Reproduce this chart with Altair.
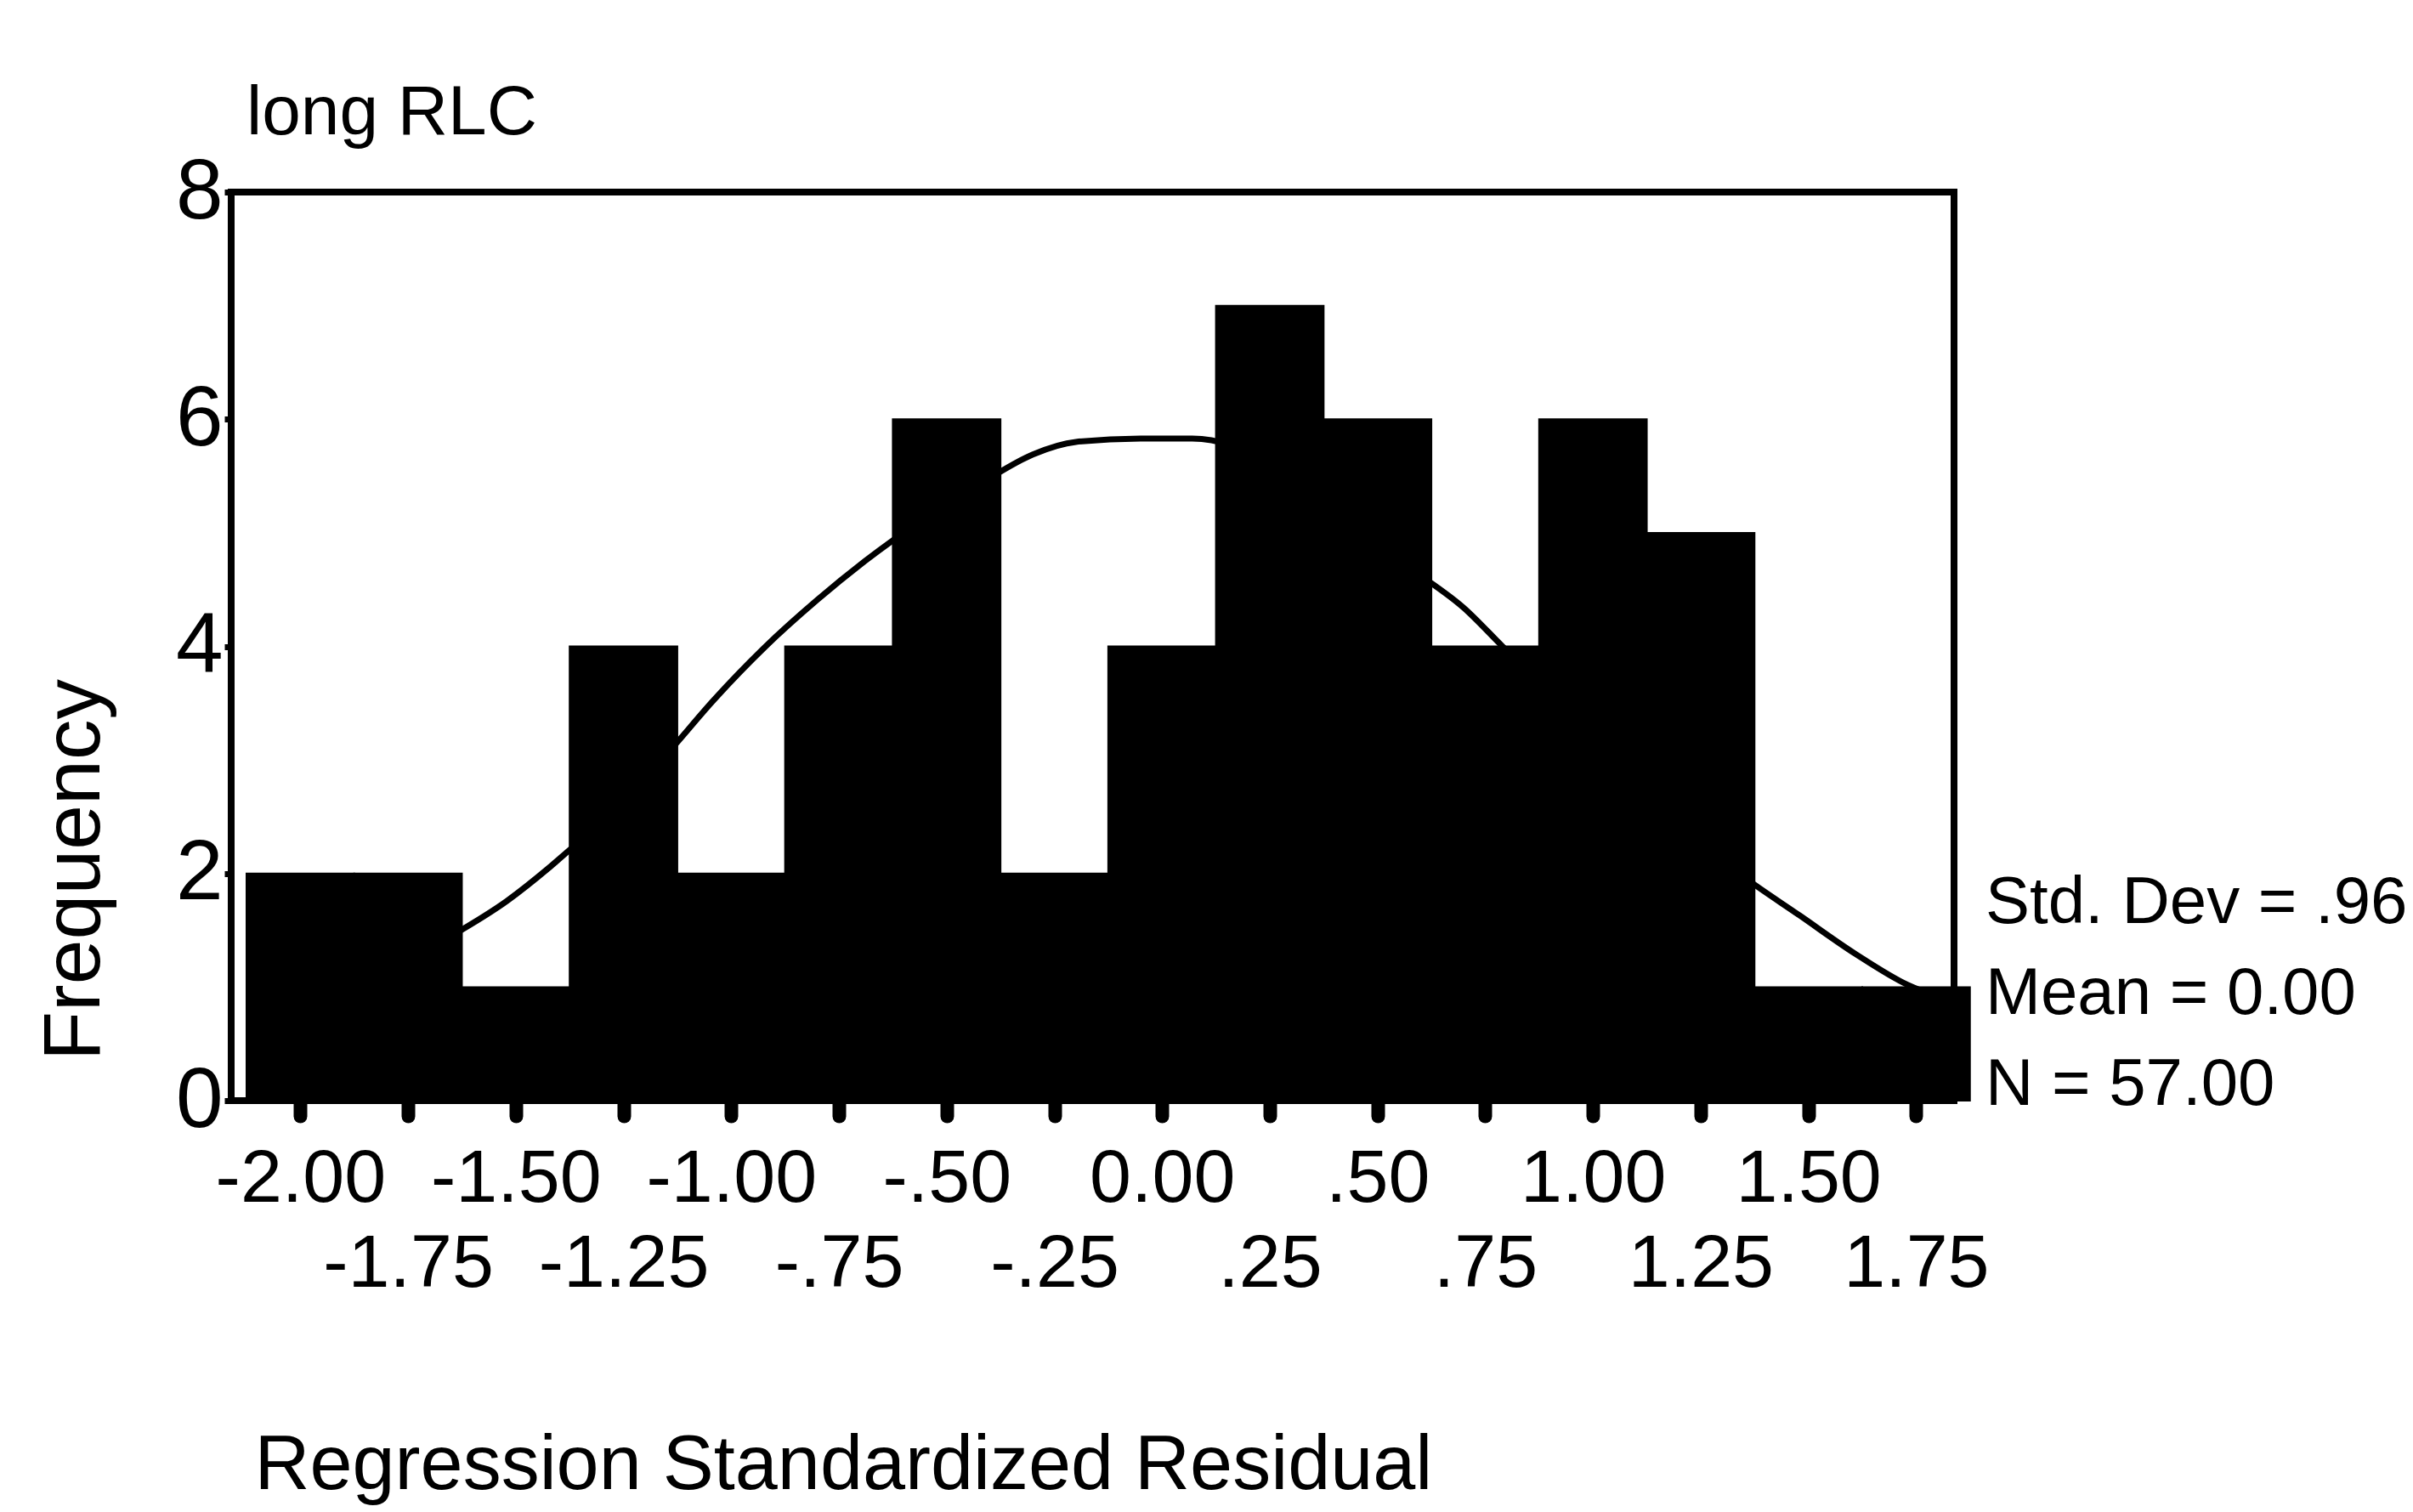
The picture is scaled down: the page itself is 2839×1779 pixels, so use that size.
import json
import altair as alt
import pandas as pd

# ---- data ----
BIN_CENTERS = [-2.00, -1.75, -1.50, -1.25, -1.00, -0.75, -0.50, -0.25,
               0.00, 0.25, 0.50, 0.75, 1.00, 1.25, 1.50, 1.75]
COUNTS = [2, 2, 1, 4, 2, 4, 6, 2, 4, 7, 6, 4, 6, 5, 1, 1]
TICK_LABELS = ["-2.00", "-1.75", "-1.50", "-1.25", "-1.00", "-.75", "-.50", "-.25",
               "0.00", ".25", ".50", ".75", "1.00", "1.25", "1.50", "1.75"]
Y_TICKS = [0, 2, 4, 6, 8]

CURVE_X = [-1.65, -1.52, -1.42, -1.15, -1.04, -0.92, -0.80, -0.69, -0.41, -0.30,
           -0.20, -0.05, 0.07, 0.59, 0.70, 0.79, 1.35, 1.48, 1.61, 1.73, 1.86]
CURVE_Y = [1.45, 1.76, 2.06, 3.05, 3.53, 4.00, 4.41, 4.75, 5.46, 5.69,
           5.80, 5.83, 5.83, 4.65, 4.34, 4.00, 1.97, 1.63, 1.29, 1.02, 0.85]

STATS = ["Std. Dev = .96", "Mean = 0.00", "N = 57.00"]
TITLE = "long RLC"
X_TITLE = "Regression Standardized Residual"
Y_TITLE = "Frequency"

BIN_WIDTH = 0.25

FONT = "Liberation Sans, Arial, sans-serif"

bars_df = pd.DataFrame({
    "center": BIN_CENTERS,
    "count": COUNTS,
})
bars_df["start"] = bars_df["center"] - BIN_WIDTH / 2
bars_df["end"] = bars_df["center"] + BIN_WIDTH / 2

curve_df = pd.DataFrame({"x": CURVE_X, "y": CURVE_Y})

V = json.dumps(BIN_CENTERS)
L = json.dumps(TICK_LABELS)
label_expr = (f"indexof({V}, datum.value) % 2 == 0 ? {L}[indexof({V}, datum.value)] "
              f": ['', {L}[indexof({V}, datum.value)]]")

x_scale = alt.Scale(domain=[-2.1605, 1.838], nice=False, zero=False)
y_scale = alt.Scale(domain=[0, 8], nice=False)

x_axis = alt.Axis(
    values=BIN_CENTERS, labelExpr=label_expr, labelOverlap=False, labelFlush=False,
    labelLimit=0, labelFont=FONT, labelFontSize=88, labelLineHeight=100,
    labelBaseline="top", labelPadding=30, labelColor="black",
    tickSize=18, tickWidth=16, tickCap="round", tickColor="black",
    domain=False, grid=False,
    title=X_TITLE, titleFont=FONT, titleFontSize=90, titleFontWeight="normal",
    titleColor="black", titleX=27, titleY=456, titleAlign="left",
    titleBaseline="alphabetic", titleAnchor="start", titleLimit=0,
)
y_axis = alt.Axis(
    values=Y_TICKS, format="d", labelFont=FONT, labelFontSize=100, labelColor="black",
    labelPadding=2, labelBaseline="middle", labelLimit=0,
    tickSize=8, tickWidth=7, tickColor="black",
    domain=False, grid=False,
    title=Y_TITLE, titleFont=FONT, titleFontSize=95, titleFontWeight="normal",
    titleColor="black", titleX=-185, titleY=797, titleAngle=270,
    titleAlign="center", titleBaseline="middle", titleLimit=0,
)

bars = alt.Chart(bars_df).mark_bar(color="black", stroke="black", strokeWidth=2).encode(
    x=alt.X("start:Q", scale=x_scale, axis=x_axis),
    x2="end:Q",
    y=alt.Y("count:Q", scale=y_scale, axis=y_axis),
    y2=alt.datum(0),
)

curve = alt.Chart(curve_df).mark_line(
    color="black", strokeWidth=7, interpolate="monotone"
).encode(
    x=alt.X("x:Q", scale=x_scale),
    y=alt.Y("y:Q", scale=y_scale),
)

stats = alt.Chart(pd.DataFrame({"k": [0]})).mark_text(
    text=STATS, font=FONT, fontSize=78, align="left", baseline="alphabetic",
    lineHeight=107, color="black",
).encode(x=alt.value(2064), y=alt.value(860))

chart = alt.layer(bars, curve, stats).properties(
    width=2027, height=1069,
    padding={"left": 272, "top": 226, "right": 540, "bottom": 484},
    autosize=alt.AutoSizeParams(type="none"),
    title=alt.TitleParams(
        TITLE, anchor="start", frame="group", dx=18, dy=136, offset=72,
        baseline="alphabetic", font=FONT, fontSize=82, fontWeight="normal",
        color="black",
    ),
    background="white",
).configure_view(stroke="black", strokeWidth=8)

chart.save("out.html", embed_options={"renderer": "svg", "actions": False})
